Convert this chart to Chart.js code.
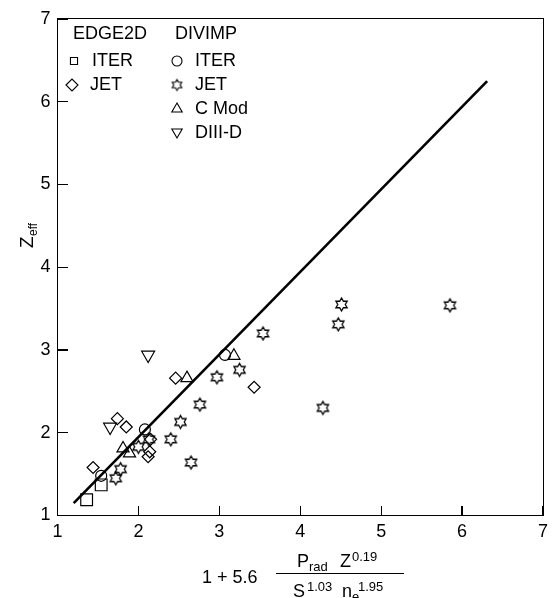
<!DOCTYPE html>
<html lang="en">
<head>
    <meta charset="UTF-8">
    <title>Zeff scaling</title>
    <script src="https://cdn.jsdelivr.net/npm/chart.js"></script>
    <style>
        body { margin: 0; background: #fff; }
        #wrap { position: relative; width: 554px; height: 598px; }
        #wrap .frame { position: absolute; border: 1.3px solid #000; box-sizing: border-box; pointer-events: none; }
        #wrap .tick { position: absolute; background: #000; pointer-events: none; }
    </style>
</head>
<body>
    <div id="wrap"><canvas id="chart" width="554" height="598"></canvas></div>
    <script>
        // EDGE2D runs
        const edgeIter = [[1.36, 1.19], [1.54, 1.37]];
        const edgeJet = [[1.44, 1.58], [1.74, 2.17], [1.85, 2.07], [2.14, 1.77], [2.12, 1.71],
            [2.15, 1.92], [2.46, 2.66], [3.43, 2.55]];
        // DIVIMP runs
        const divIter = [[1.54, 1.48], [2.08, 2.04], [3.07, 2.94]];
        const divJet = [[1.72, 1.45], [1.78, 1.56], [2.0, 1.83], [2.13, 1.92], [2.40, 1.92],
            [2.52, 2.13], [2.65, 1.64], [2.76, 2.34], [2.97, 2.67], [3.25, 2.76], [3.54, 3.20],
            [4.28, 2.30], [4.47, 3.31], [4.51, 3.55], [5.85, 3.54]];
        const divCmod = [[1.81, 1.81], [1.89, 1.75], [2.60, 2.66], [3.18, 2.93]];
        const divD3d = [[1.65, 2.07], [2.12, 2.94]];
        // fit line
        const fitLine = [[1.2, 1.15], [6.31, 6.25]];

        const axisTicks = [1, 2, 3, 4, 5, 6, 7];

        const FONT = "'Liberation Sans', Arial, Helvetica, sans-serif";
        const pts = arr => arr.map(p => ({ x: p[0], y: p[1] }));

        // six-pointed star outline as an image
        function makeStar(size, lw) {
            const c = document.createElement('canvas');
            c.width = size + 4; c.height = size + 4;
            const g = c.getContext('2d');
            const cx = c.width / 2, cy = c.height / 2;
            const ro = size / 2, ri = ro / Math.sqrt(3);
            g.beginPath();
            for (let i = 0; i < 12; i++) {
                const r = i % 2 === 0 ? ro : ri;
                const a = -Math.PI / 2 + i * Math.PI / 6;
                const px = cx + r * Math.cos(a), py = cy + r * Math.sin(a);
                if (i === 0) g.moveTo(px, py); else g.lineTo(px, py);
            }
            g.closePath();
            g.lineWidth = lw;
            g.strokeStyle = '#000';
            g.stroke();
            return c;
        }
        const starImg = makeStar(13, 1.3);
        const starSmall = makeStar(11, 1.1);

        function ds(label, data, style, radius, extra) {
            return Object.assign({
                label: label,
                data: pts(data),
                pointStyle: style,
                pointRadius: radius,
                pointHoverRadius: radius,
                borderColor: '#000',
                backgroundColor: 'rgba(0,0,0,0)',
                pointBorderWidth: 1.2,
                showLine: false
            }, extra || {});
        }

        const legendPlugin = {
            id: 'legendAndTitles',
            afterDraw(chart) {
                const ctx = chart.ctx;
                ctx.save();
                ctx.fillStyle = '#000';
                ctx.textBaseline = 'middle';
                ctx.textAlign = 'left';
                ctx.font = '18px ' + FONT;
                ctx.fillText('EDGE2D', 73, 34);
                ctx.fillText('DIVIMP', 175, 34);
                const rows = [
                    [74, 61, 'rect', 5, 'ITER', 92],
                    [72, 85, 'rectRot', 6, 'JET', 90],
                    [177, 61, 'circle', 5, 'ITER', 195],
                    [177, 85, 'star', 0, 'JET', 195],
                    [177, 109, 'triangle', 6, 'C Mod', 195],
                    [177, 133, 'triangleDown', 6, 'DIII-D', 195]
                ];
                rows.forEach(r => {
                    ctx.strokeStyle = '#000';
                    ctx.fillStyle = 'rgba(0,0,0,0)';
                    ctx.lineWidth = 1.1;
                    if (r[2] === 'star') {
                        ctx.drawImage(starSmall, r[0] - starSmall.width / 2, r[1] - starSmall.height / 2);
                    } else if (r[2] === 'triangleDown') {
                        Chart.helpers.drawPoint(ctx, { pointStyle: 'triangle', radius: r[3], rotation: 180, borderWidth: 1.1 }, r[0], r[1] - 1);
                    } else {
                        Chart.helpers.drawPoint(ctx, { pointStyle: r[2], radius: r[3], rotation: 0, borderWidth: 1.1 }, r[0], r[1]);
                    }
                    ctx.fillStyle = '#000';
                    ctx.fillText(r[4], r[5], r[1]);
                });

                // y title: Z_eff
                ctx.save();
                ctx.translate(33, 234);
                ctx.rotate(-Math.PI / 2);
                ctx.textBaseline = 'alphabetic';
                ctx.textAlign = 'left';
                ctx.font = '19px ' + FONT;
                ctx.fillText('Z', -14, 0);
                ctx.font = '12px ' + FONT;
                ctx.fillText('eff', -2, 4);
                ctx.restore();

                // x title: 1 + 5.6 * Prad Z^0.19 / (S^1.03 ne^1.95)
                ctx.textBaseline = 'alphabetic';
                ctx.font = '18px ' + FONT;
                ctx.fillText('1 + 5.6', 202, 583);
                ctx.fillText('P', 297, 567);
                ctx.fillText('Z', 340, 567);
                ctx.fillText('S', 293, 597);
                ctx.fillText('n', 342, 597);
                ctx.font = '13px ' + FONT;
                ctx.fillText('rad', 309, 571);
                ctx.fillText('0.19', 352, 561);
                ctx.fillText('1.03', 307, 591);
                ctx.fillText('e', 352, 601);
                ctx.fillText('1.95', 358, 591);
                ctx.beginPath();
                ctx.strokeStyle = '#000';
                ctx.lineWidth = 1.2;
                ctx.moveTo(276, 573.5); ctx.lineTo(404, 573.5);
                ctx.stroke();
                ctx.restore();
            }
        };

        const chart = new Chart(document.getElementById('chart'), {
            type: 'scatter',
            data: {
                datasets: [
                    {
                        label: 'fit',
                        data: pts(fitLine),
                        showLine: true,
                        borderColor: '#000',
                        borderWidth: 2.6,
                        pointRadius: 0,
                        pointHoverRadius: 0
                    },
                    ds('EDGE2D ITER', edgeIter, 'rect', 8.3),
                    ds('EDGE2D JET', edgeJet, 'rectRot', 6),
                    ds('DIVIMP ITER', divIter, 'circle', 5.5),
                    ds('DIVIMP JET', divJet, starImg, 7),
                    ds('DIVIMP C Mod', divCmod, 'triangle', 7),
                    ds('DIVIMP DIII-D', divD3d, 'triangle', 7.5, { rotation: 180 })
                ]
            },
            options: {
                responsive: false,
                animation: false,
                events: [],
                layout: { padding: { left: 0, right: 1, top: 19, bottom: 0 } },
                plugins: {
                    legend: { display: false },
                    tooltip: { enabled: false }
                },
                scales: {
                    x: {
                        type: 'linear',
                        min: 1, max: 7,
                        afterFit: s => { s.height = 82.5; },
                        afterBuildTicks: s => { s.ticks = axisTicks.map(v => ({ value: v })); },
                        grid: { display: false, drawTicks: false },
                        border: { display: false },
                        ticks: { color: '#000', padding: 6, font: { family: FONT, size: 18 } }
                    },
                    y: {
                        type: 'linear',
                        min: 1, max: 7,
                        afterFit: s => { s.width = 57.5; },
                        afterBuildTicks: s => { s.ticks = axisTicks.map(v => ({ value: v })); },
                        grid: { display: false, drawTicks: false },
                        border: { display: false },
                        ticks: { color: '#000', padding: 7, font: { family: FONT, size: 18 } }
                    }
                }
            },
            plugins: [legendPlugin]
        });

        // plot frame and inward ticks as overlay elements, placed from the chart scales
        (function () {
            const wrap = document.getElementById('wrap');
            const xs = chart.scales.x, ys = chart.scales.y;
            const x0 = xs.getPixelForValue(1), x1 = xs.getPixelForValue(7);
            const y0 = ys.getPixelForValue(1), y1 = ys.getPixelForValue(7);
            const frame = document.createElement('div');
            frame.className = 'frame';
            frame.style.left = (x0 - 0.65) + 'px';
            frame.style.top = (y1 - 0.65) + 'px';
            frame.style.width = (x1 - x0 + 1.3) + 'px';
            frame.style.height = (y0 - y1 + 1.3) + 'px';
            wrap.appendChild(frame);
            axisTicks.forEach(v => {
                const tx = document.createElement('div');
                tx.className = 'tick';
                tx.style.left = (xs.getPixelForValue(v) - 0.6) + 'px';
                tx.style.top = (y0 - 10) + 'px';
                tx.style.width = '1.2px';
                tx.style.height = '10px';
                wrap.appendChild(tx);
                const ty = document.createElement('div');
                ty.className = 'tick';
                ty.style.left = x0 + 'px';
                ty.style.top = (ys.getPixelForValue(v) - 0.6) + 'px';
                ty.style.width = '10px';
                ty.style.height = '1.2px';
                wrap.appendChild(ty);
            });
        })();
    </script>
</body>
</html>
